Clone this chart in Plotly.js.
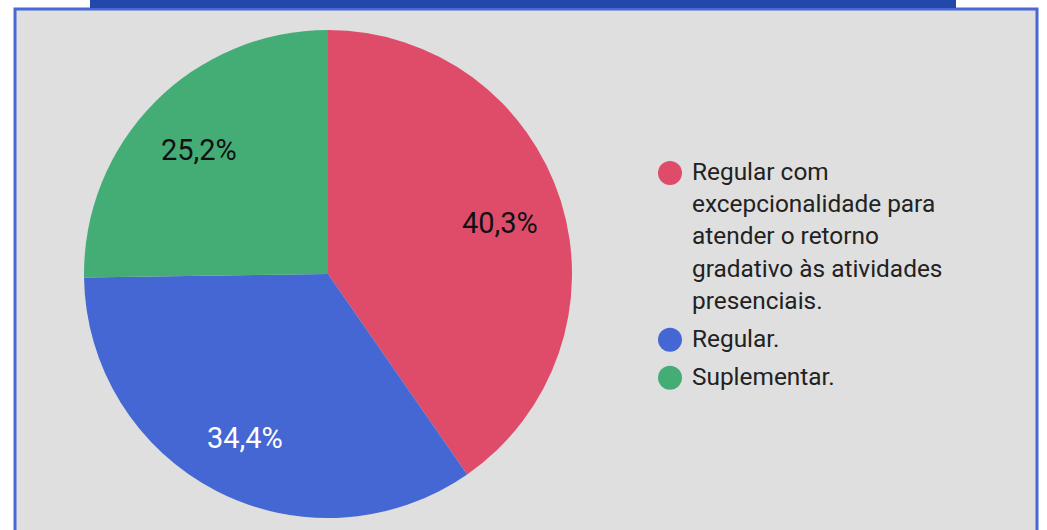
<!DOCTYPE html>
<html>
<head>
<meta charset="utf-8">
<script src="https://cdn.plot.ly/plotly-3.0.1.min.js"></script>
<style>html,body{margin:0;padding:0;background:#fff;}#chart{width:1047px;height:530px;}</style>
</head>
<body>
<div id="chart"></div>
<script>
const categories = ["Regular com excepcionalidade para atender o retorno gradativo às atividades presenciais.", "Regular.", "Suplementar."];
const values = [40.3, 34.4, 25.2];
const legendLines = [
  ["Regular com", "excepcionalidade para", "atender o retorno", "gradativo às atividades", "presenciais."],
  ["Regular."],
  ["Suplementar."]
];
const colors = ["#de4c6a", "#4567d3", "#44ad76"];
const textColors = ["#111111", "#ffffff", "#111111"];

const W = 1047, H = 530;
const px = x => x / W;
const py = y => 1 - y / H;

// pie geometry (pixels)
const cx = 328, cy = 274, R = 244;

const shapes = [
  {type: "rect", xref: "paper", yref: "paper", x0: px(15), x1: px(1037), y0: py(545), y1: py(9),
   line: {color: "#4768d6", width: 3}, fillcolor: "#dfdfdf", layer: "below"},
  {type: "rect", xref: "paper", yref: "paper", x0: px(90), x1: px(956), y0: py(8), y1: py(-5),
   line: {width: 0}, fillcolor: "#2348a9", layer: "below"}
];
const annotations = [];

// slice labels, placed from the data values
const total = values.reduce((a, b) => a + b, 0);
let cum = 0;
values.forEach((v, i) => {
  const mid = (cum + v / 2) / total * 2 * Math.PI;
  cum += v;
  const r = 0.74 * R;
  annotations.push({xref: "paper", yref: "paper",
    x: px(cx + r * Math.sin(mid)), y: py(cy - r * Math.cos(mid) + 3),
    xanchor: "center", yanchor: "middle", showarrow: false,
    text: (v / total * 100).toFixed(1).replace(".", ",") + "%",
    font: {family: "Roboto", size: 29, color: textColors[i]}});
});

// custom legend
let y = 173;
legendLines.forEach((lines, i) => {
  shapes.push({type: "circle", xref: "paper", yref: "paper",
    x0: px(658), x1: px(682), y0: py(y + 12), y1: py(y - 12),
    line: {width: 0}, fillcolor: colors[i]});
  lines.forEach((ln, j) => {
    annotations.push({xref: "paper", yref: "paper", x: px(690), y: py(y - 1.5 + j * 32.2),
      xanchor: "left", yanchor: "middle", showarrow: false, text: ln,
      font: {family: "Roboto", size: 24.4, color: "#222222"}});
  });
  y += (lines.length - 1) * 32.2 + 38;
});

const data = [{
  type: "pie",
  labels: categories,
  values: values,
  sort: false,
  direction: "clockwise",
  rotation: 0,
  marker: {colors: colors, line: {width: 0}},
  textinfo: "none",
  hoverinfo: "label+percent",
  showlegend: false,
  domain: {x: [px(84), px(572)], y: [py(518), py(30)]}
}];

const layout = {
  width: W, height: H,
  margin: {l: 0, r: 0, t: 0, b: 0},
  paper_bgcolor: "#ffffff",
  separators: ",.",
  showlegend: false,
  shapes: shapes,
  annotations: annotations,
  font: {family: "Roboto"}
};
Plotly.newPlot("chart", data, layout, {displayModeBar: false});
</script>
</body>
</html>
